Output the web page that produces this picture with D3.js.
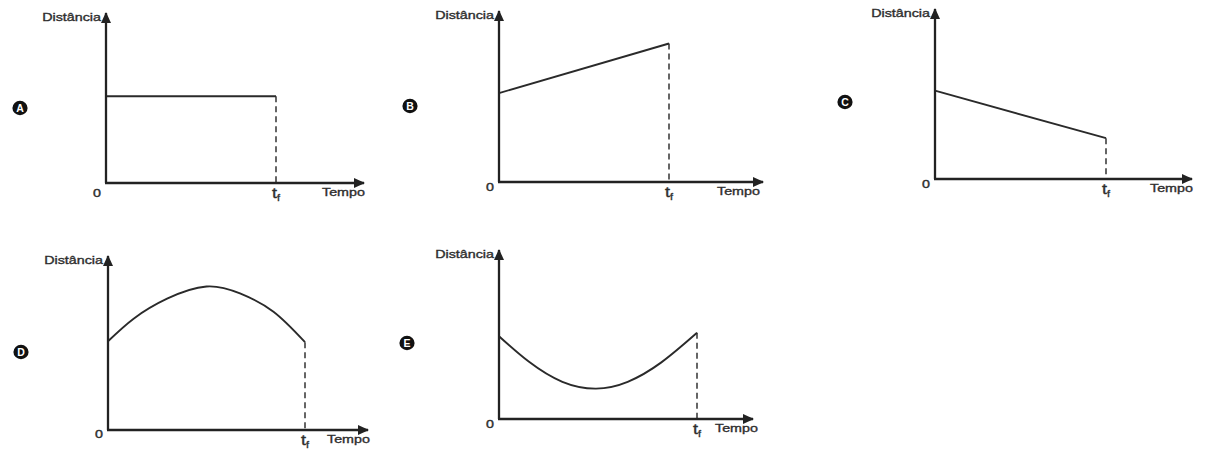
<!DOCTYPE html>
<html>
<head>
<meta charset="utf-8">
<script src="https://cdn.jsdelivr.net/npm/d3@7"></script>
<style>
  body { margin: 0; background: #fff; }
  text { font-family: "Liberation Sans", Arial, sans-serif; fill: #2e2e2e; stroke: #2e2e2e; stroke-width: 0.35px; }
</style>
</head>
<body>
<svg id="chart"></svg>
<script>
// Panel letters
const panels = ["A", "B", "C", "D", "E"];

// Time values (t_f = 1) and distance values (y axis spans 0..10)
const timeA = [0, 1];
const distA = [5.1, 5.1];

const timeB = [0, 1];
const distB = [5.2, 8.1];

const timeC = [0, 1];
const distC = [5.2, 2.4];

const timeD = [0, 0.13, 0.30, 0.50, 0.67, 0.84, 1];
const distD = [5.1, 6.4, 7.55, 8.25, 7.85, 6.8, 5.05];

const timeE = [0, 0.15, 0.32, 0.49, 0.65, 0.82, 1];
const distE = [4.9, 3.4, 2.2, 1.8, 2.2, 3.35, 5.1];

// Axis labels
const yLabel = "Distância";
const xLabel = "Tempo";
const originLabel = "0";
const tfMain = "t";
const tfSub = "f";

const series = [
  { times: timeA, dists: distA, curve: d3.curveLinear },
  { times: timeB, dists: distB, curve: d3.curveLinear },
  { times: timeC, dists: distC, curve: d3.curveLinear },
  { times: timeD, dists: distD, curve: d3.curveNatural },
  { times: timeE, dists: distE, curve: d3.curveNatural }
];

// Where each small graph sits on the page
const layout = [
  { x0: 106, y0: 183, yTop: 13, xEnd: 364, xTf: 276, bx: 20, by: 108, tempoX: 322, zeroDy: 14 },
  { x0: 499, y0: 182, yTop: 11, xEnd: 763, xTf: 669, bx: 410, by: 106, tempoX: 717, zeroDy: 9 },
  { x0: 935, y0: 179, yTop: 9, xEnd: 1192, xTf: 1106, bx: 845, by: 102, tempoX: 1150, zeroDy: 9 },
  { x0: 108, y0: 430, yTop: 256, xEnd: 368, xTf: 305, bx: 21, by: 352, tempoX: 327, zeroDy: 8 },
  { x0: 499, y0: 419, yTop: 250, xEnd: 753, xTf: 697, bx: 407, by: 343, tempoX: 715, zeroDy: 9 }
];

const width = 1205;
const height = 450;
const stretch = 1.3;  // the original lettering is a bit wide

const svg = d3.select("#chart")
    .attr("width", width)
    .attr("height", height);

// Arrow head for the axes
svg.append("defs").append("marker")
    .attr("id", "arrow")
    .attr("viewBox", "0 -5 11 10")
    .attr("refX", 10)
    .attr("refY", 0)
    .attr("markerUnits", "userSpaceOnUse")
    .attr("markerWidth", 11)
    .attr("markerHeight", 10)
    .attr("orient", "auto")
  .append("path")
    .attr("d", "M0,-5L11,0L0,5Z")
    .attr("fill", "#222");

panels.forEach((name, i) => {
  const L = layout[i];
  const s = series[i];
  const g = svg.append("g").attr("class", "panel");

  const x = d3.scaleLinear().domain([0, 1]).range([L.x0, L.xTf]);
  const y = d3.scaleLinear().domain([0, 10]).range([L.y0, L.yTop]);

  const pts = s.times.map((t, k) => [t, s.dists[k]]);
  const last = pts[pts.length - 1];

  // dashed drop line at t_f
  g.append("line")
      .attr("x1", x(1)).attr("x2", x(1))
      .attr("y1", y(last[1])).attr("y2", y(0))
      .attr("stroke", "#555")
      .attr("stroke-width", 1.8)
      .attr("stroke-dasharray", "6,4");

  // the curve itself
  const line = d3.line()
      .x(d => x(d[0]))
      .y(d => y(d[1]))
      .curve(s.curve);

  g.append("path")
      .datum(pts)
      .attr("d", line)
      .attr("fill", "none")
      .attr("stroke", "#2a2a2a")
      .attr("stroke-width", 1.9);

  // axes
  g.append("line")
      .attr("x1", x(0)).attr("x2", x(0))
      .attr("y1", y(0)).attr("y2", L.yTop)
      .attr("stroke", "#222")
      .attr("stroke-width", 2.3)
      .attr("marker-end", "url(#arrow)");

  g.append("line")
      .attr("x1", x(0) - 1).attr("x2", L.xEnd)
      .attr("y1", y(0)).attr("y2", y(0))
      .attr("stroke", "#222")
      .attr("stroke-width", 2.3)
      .attr("marker-end", "url(#arrow)");

  // axis texts
  g.append("text")
      .attr("transform", `translate(${x(0) - 5},${L.yTop + 8}) scale(${stretch},1)`)
      .attr("text-anchor", "end")
      .style("font-size", "11px")
      .text(yLabel);

  g.append("text")
      .attr("transform", `translate(${L.tempoX},${y(0) + 13}) scale(${stretch},1)`)
      .style("font-size", "11px")
      .text(xLabel);

  g.append("text")
      .attr("transform", `translate(${x(0) - 9},${y(0) + L.zeroDy}) scale(${stretch},1)`)
      .attr("text-anchor", "middle")
      .style("font-size", "11px")
      .text(originLabel);

  const tf = g.append("text")
      .attr("transform", `translate(${x(1) - 4},${y(0) + 15}) scale(1.2,1)`)
      .style("font-size", "15px");
  tf.append("tspan").text(tfMain);
  tf.append("tspan")
      .attr("dy", 3)
      .style("font-size", "9px")
      .text(tfSub);

  // letter badge
  g.append("ellipse")
      .attr("cx", L.bx).attr("cy", L.by)
      .attr("rx", 7.6).attr("ry", 7.2)
      .attr("fill", "#111")
      .attr("stroke", "none");

  g.append("text")
      .attr("x", L.bx).attr("y", L.by + 3.8)
      .attr("text-anchor", "middle")
      .style("font-size", "10.5px")
      .style("font-weight", "bold")
      .style("fill", "#fff")
      .style("stroke", "none")
      .text(name);
});
</script>
</body>
</html>
